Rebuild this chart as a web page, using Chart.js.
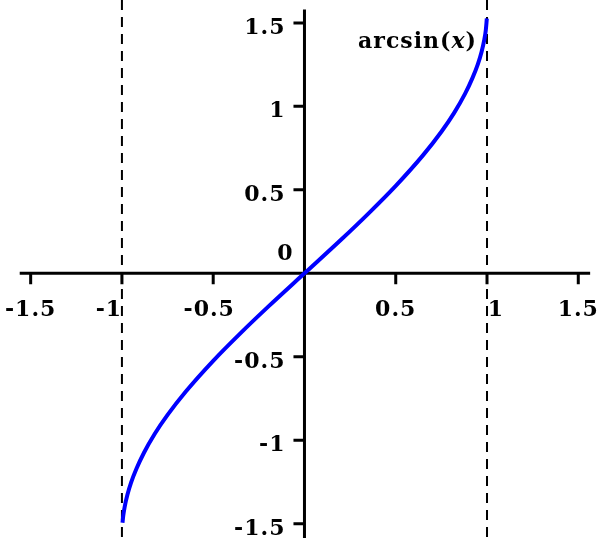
<!DOCTYPE html>
<html>
<head>
<meta charset="utf-8">
<script src="https://cdn.jsdelivr.net/npm/chart.js@4"></script>
<style>
    html, body { margin: 0; padding: 0; background: #fff; }
    #wrap { width: 600px; height: 538px; }
</style>
</head>
<body>
<div id="wrap"><canvas id="arcsinChart"></canvas></div>
<script>
const curveX = [-0.997, -0.993, -0.985, -0.97, -0.95, -0.92, -0.88, -0.82, -0.75, -0.65, -0.5, -0.35, -0.2, 0,
                0.2, 0.35, 0.5, 0.65, 0.75, 0.82, 0.88, 0.92, 0.95, 0.97, 0.985, 0.993, 0.999];
const curveY = [-1.494, -1.453, -1.398, -1.326, -1.253, -1.169, -1.076, -0.961, -0.848, -0.708, -0.524, -0.358, -0.201, 0,
                0.201, 0.358, 0.524, 0.708, 0.848, 0.961, 1.076, 1.169, 1.253, 1.326, 1.398, 1.453, 1.526];

const xTicks = [-1.5, -1, -0.5, 0.5, 1, 1.5];
const yTicks = [1.5, 1, 0.5, -0.5, -1, -1.5];
const xTickLabels = ['-1.5', '-1', '-0.5', '0.5', '1', '1.5'];
const yTickLabels = ['1.5', '1', '0.5', '-0.5', '-1', '-1.5'];
const asymptotes = [-1, 1];
const curveLabel = 'arcsin';

document.addEventListener('DOMContentLoaded', function () {
    const FONT = 'bold 22px "DejaVu Serif"';
    const ITALIC = 'italic bold 22px "DejaVu Serif"';

    // eixos cruzando na origem, assíntotas tracejadas e rótulos
    const axesPlugin = {
        id: 'centerAxes',
        beforeDatasetsDraw(chart) {
            const ctx = chart.ctx;
            const xs = chart.scales.x;
            const ys = chart.scales.y;
            const x0 = xs.getPixelForValue(0);
            const y0 = ys.getPixelForValue(0);
            const top = chart.chartArea.top;
            const bottom = chart.chartArea.bottom;

            ctx.save();
            // assíntotas x = -1 e x = 1
            ctx.strokeStyle = '#000';
            ctx.lineWidth = 2;
            ctx.setLineDash([10, 7]);
            asymptotes.forEach(v => {
                const px = xs.getPixelForValue(v);
                ctx.beginPath();
                ctx.moveTo(px, top);
                ctx.lineTo(px, bottom);
                ctx.stroke();
            });
            ctx.setLineDash([]);

            // eixos
            ctx.lineWidth = 3;
            ctx.beginPath();
            ctx.moveTo(xs.getPixelForValue(-1.56), y0);
            ctx.lineTo(xs.getPixelForValue(1.565), y0);
            ctx.moveTo(x0, ys.getPixelForValue(1.58));
            ctx.lineTo(x0, bottom);
            ctx.stroke();

            // marcas
            ctx.beginPath();
            xTicks.forEach(v => {
                const px = xs.getPixelForValue(v);
                ctx.moveTo(px, y0);
                ctx.lineTo(px, y0 + 11);
            });
            yTicks.forEach(v => {
                const py = ys.getPixelForValue(v);
                ctx.moveTo(x0 - 11, py);
                ctx.lineTo(x0, py);
            });
            ctx.stroke();

            // rótulos
            ctx.fillStyle = '#000';
            ctx.font = FONT;
            ctx.letterSpacing = '1px';
            ctx.textBaseline = 'middle';
            ctx.textAlign = 'center';
            xTicks.forEach((v, i) => {
                let px = xs.getPixelForValue(v);
                if (v === -1) px -= 13;
                if (v === 1) px += 9;
                if (v === -0.5) px -= 4;
                ctx.fillText(xTickLabels[i], px, y0 + 37);
            });
            ctx.textAlign = 'right';
            yTicks.forEach((v, i) => {
                ctx.fillText(yTickLabels[i], x0 - 19, ys.getPixelForValue(v) + 5);
            });
            ctx.fillText('0', x0 - 11, y0 - 19);

            // nome da curva
            const right = 477;
            const base = 48;
            ctx.textBaseline = 'alphabetic';
            ctx.textAlign = 'left';
            ctx.font = FONT;
            const wA = ctx.measureText(curveLabel + '(').width;
            const wC = ctx.measureText(')').width;
            ctx.font = ITALIC;
            const wB = ctx.measureText('x').width;
            const left = right - (wA + wB + wC);
            ctx.font = FONT;
            ctx.fillText(curveLabel + '(', left, base);
            ctx.font = ITALIC;
            ctx.fillText('x', left + wA, base);
            ctx.font = FONT;
            ctx.fillText(')', left + wA + wB, base);
            ctx.restore();
        }
    };

    new Chart(document.getElementById('arcsinChart'), {
        type: 'scatter',
        data: {
            datasets: [{
                data: curveX.map((x, i) => ({ x: x, y: curveY[i] })),
                showLine: true,
                borderColor: '#0000ff',
                borderWidth: 4,
                pointRadius: 0,
                cubicInterpolationMode: 'monotone',
                fill: false
            }]
        },
        options: {
            responsive: true,
            maintainAspectRatio: false,
            animation: false,
            layout: { padding: 0 },
            plugins: { legend: { display: false }, tooltip: { enabled: false } },
            scales: {
                x: { type: 'linear', display: false, min: -1.668, max: 1.619 },
                y: { type: 'linear', display: false, min: -1.585, max: 1.637 }
            }
        },
        plugins: [axesPlugin]
    });
});
</script>
</body>
</html>
